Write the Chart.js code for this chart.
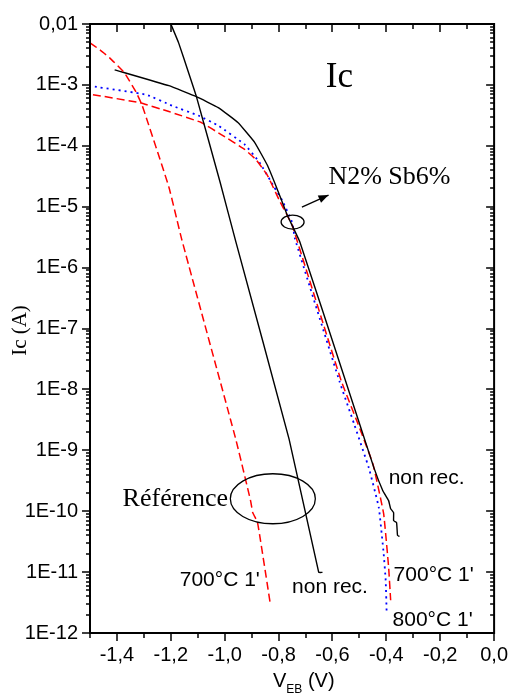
<!DOCTYPE html>
<html><head><meta charset="utf-8">
<script src="https://cdn.jsdelivr.net/npm/chart.js@4/dist/chart.umd.min.js"></script>
<style>html,body{margin:0;padding:0;background:#fff;}</style>
</head><body>
<canvas id="c" width="518" height="698" style="display:block;width:518px;height:698px"></canvas>
<script>
// ---- tick labels ----
const xTickValues = [-1.4, -1.2, -1.0, -0.8, -0.6, -0.4, -0.2, 0.0];
const xTickLabels = ['-1,4', '-1,2', '-1,0', '-0,8', '-0,6', '-0,4', '-0,2', '0,0'];
const yTickValues = [1e-12, 1e-11, 1e-10, 1e-9, 1e-8, 1e-7, 1e-6, 1e-5, 1e-4, 1e-3, 1e-2];
const yTickLabels = ['1E-12', '1E-11', '1E-10', '1E-9', '1E-8', '1E-7', '1E-6', '1E-5', '1E-4', '1E-3', '0,01'];

// ---- Référence, non recuit (black solid) ----
const refNonRecV = [-1.200, -1.171, -1.134, -1.105, -1.017, -0.9585, -0.761, -0.651, -0.637];
const refNonRecI = [1.0e-2, 4.9e-3, 1.58e-3, 6.41e-4, 2.52e-5, 2.64e-6, 1.53e-9, 9.9e-12, 9.9e-12];

// ---- Référence, 700°C 1' (red dashed) ----
const ref700V = [-1.500, -1.463, -1.427, -1.372, -1.328, -1.306, -1.207, -1.160, -0.959, -0.904, -0.896, -0.878, -0.830];
const ref700I = [4.9e-3, 3.76e-3, 2.78e-3, 1.58e-3, 7.46e-4, 4.57e-4, 2.09e-5, 2.96e-6, 1.53e-9, 1.49e-10, 9.5e-11, 6.5e-11, 2.87e-12];

// ---- N2% Sb6%, non recuit (black solid) ----
const n2NonRecV = [-1.4085, -1.207, -1.105, -1.024, -0.951, -0.889, -0.8415, -0.805, -0.768, -0.721, -0.551, -0.446, -0.413, -0.3915, -0.384, -0.373, -0.373, -0.362, -0.3585, -0.351];
const n2NonRecI = [1.77e-3, 9.7e-4, 6.41e-4, 4.24e-4, 2.41e-4, 1.14e-4, 4.79e-5, 1.94e-5, 7.3e-6, 2.64e-6, 1.36e-8, 5.15e-10, 2.17e-10, 1.49e-10, 1.10e-10, 9.5e-11, 7.0e-11, 6.5e-11, 4.0e-11, 3.85e-11];

// ---- N2% Sb6%, 700°C 1' (red dashed) ----
const n2700V = [-1.489, -1.317, -1.207, -1.087, -1.013, -0.926, -0.885, -0.8415, -0.794, -0.750, -0.567, -0.505, -0.450, -0.410, -0.3915, -0.384];
const n2700I = [6.92e-4, 5.12e-4, 3.65e-4, 2.41e-4, 1.53e-4, 8.73e-5, 6.0e-5, 3.28e-5, 1.19e-5, 5.0e-6, 1.36e-8, 2.70e-9, 6.0e-10, 9.1e-11, 1.2e-11, 3.46e-12];

// ---- N2% Sb6%, 800°C 1' (blue dotted) ----
const n2800V = [-1.482, -1.2915, -1.196, -1.098, -1.024, -0.926, -0.871, -0.816, -0.787, -0.750, -0.739, -0.574, -0.5195, -0.465, -0.428, -0.410, -0.4024, -0.3988];
const n2800I = [9.35e-4, 6.92e-4, 4.57e-4, 3.14e-4, 2.15e-4, 1.05e-4, 5.36e-5, 2.09e-5, 1.28e-5, 5.6e-6, 2.96e-6, 1.36e-8, 2.70e-9, 5.15e-10, 1.15e-10, 2.03e-11, 7.3e-12, 2.12e-12];

const pts = (xs, ys) => xs.map((v, i) => ({ x: v, y: ys[i] }));

const SANS = '"Liberation Sans", Arial, sans-serif';
const SERIF = '"Liberation Serif", "Times New Roman", serif';

const decor = {
  id: 'decor',
  afterDraw(chart) {
    const { ctx, chartArea: a, scales: { x, y } } = chart;
    const P = (v, i) => [x.getPixelForValue(v), y.getPixelForValue(i)];
    const line = (x1, y1, x2, y2) => { ctx.beginPath(); ctx.moveTo(x1, y1); ctx.lineTo(x2, y2); ctx.stroke(); };
    ctx.save();
    ctx.strokeStyle = '#000';
    ctx.fillStyle = '#000';
    // frame
    ctx.lineWidth = 2;
    ctx.strokeRect(a.left, a.top, a.right - a.left, a.bottom - a.top);
    // x ticks
    ctx.lineWidth = 1.5;
    for (let k = 0; k <= 15; k++) {
      const v = -1.5 + k * 0.1;
      const px = Math.round(x.getPixelForValue(v));
      const len = (k % 2 === 1) ? 8 : 5;
      line(px, a.bottom, px, a.bottom + len);
      line(px, a.top, px, a.top + len);
    }
    // y ticks (log)
    for (let e = -12; e <= -2; e++) {
      for (let m = 1; m <= 9; m++) {
        if (e === -2 && m > 1) break;
        const py = Math.round(y.getPixelForValue(m * Math.pow(10, e)));
        const len = m === 1 ? 8 : 4;
        line(a.left - len, py, a.left, py);
        line(a.right - len, py, a.right, py);
      }
    }
    // annotations
    ctx.lineWidth = 1.3;
    ctx.textBaseline = 'middle';
    ctx.textAlign = 'left';
    ctx.font = '35px ' + SERIF;
    let p = P(-0.574, 1.31e-3); ctx.textAlign = 'center'; ctx.fillText('Ic', p[0], p[1]);
    ctx.textAlign = 'left';
    ctx.font = '26px ' + SERIF;
    p = P(-0.615, 3.05e-5); ctx.fillText('N2% Sb6%', p[0], p[1]);
    p = P(-1.379, 1.6e-10); ctx.fillText('Référence', p[0], p[1]);
    ctx.font = '21px ' + SANS;
    p = P(-0.3915, 3.54e-10); ctx.fillText('non rec.', p[0], p[1]);
    p = P(-0.750, 5.65e-12); ctx.fillText('non rec.', p[0], p[1]);
    p = P(-1.167, 7.35e-12); ctx.fillText("700°C 1'", p[0], p[1]);
    p = P(-0.373, 8.87e-12); ctx.fillText("700°C 1'", p[0], p[1]);
    p = P(-0.377, 1.63e-12); ctx.fillText("800°C 1'", p[0], p[1]);
    // ellipses
    p = P(-0.8213, 1.6e-10);
    ctx.beginPath(); ctx.ellipse(p[0], p[1], 42.5, 25, 0, 0, Math.PI * 2); ctx.stroke();
    p = P(-0.748, 5.6e-6);
    ctx.beginPath(); ctx.ellipse(p[0], p[1], 11.5, 7, 0, 0, Math.PI * 2); ctx.stroke();
    // arrow
    const s = P(-0.7134, 9.84e-6), t = P(-0.6146, 1.55e-5);
    line(s[0], s[1], t[0], t[1]);
    const ang = Math.atan2(t[1] - s[1], t[0] - s[0]);
    ctx.beginPath();
    ctx.moveTo(t[0], t[1]);
    ctx.lineTo(t[0] - 10 * Math.cos(ang) + 4 * Math.sin(ang), t[1] - 10 * Math.sin(ang) - 4 * Math.cos(ang));
    ctx.lineTo(t[0] - 10 * Math.cos(ang) - 4 * Math.sin(ang), t[1] - 10 * Math.sin(ang) + 4 * Math.cos(ang));
    ctx.closePath(); ctx.fill();
    // axis titles
    ctx.save();
    ctx.translate(20, (a.top + a.bottom) / 2 + 2);
    ctx.rotate(-Math.PI / 2);
    ctx.textAlign = 'center';
    ctx.font = '21px ' + SERIF;
    ctx.fillText('Ic (A)', 0, 0);
    ctx.restore();
    ctx.textBaseline = 'alphabetic';
    ctx.textAlign = 'left';
    let xx = 273, base = 687;
    ctx.font = '20px ' + SANS;
    ctx.fillText('V', xx, base); xx += ctx.measureText('V').width;
    ctx.font = '12px ' + SANS;
    ctx.fillText('EB', xx, base + 6); xx += ctx.measureText('EB').width;
    ctx.font = '20px ' + SANS;
    ctx.fillText(' (V)', xx, base);
    ctx.restore();
  }
};

new Chart(document.getElementById('c'), {
  type: 'line',
  data: {
    datasets: [
      { data: pts(refNonRecV, refNonRecI), borderColor: '#000', borderWidth: 1.4 },
      { data: pts(ref700V, ref700I), borderColor: '#ff0000', borderWidth: 1.5, borderDash: [8, 4] },
      { data: pts(n2NonRecV, n2NonRecI), borderColor: '#000', borderWidth: 1.4 },
      { data: pts(n2700V, n2700I), borderColor: '#ff0000', borderWidth: 1.5, borderDash: [8, 4] },
      { data: pts(n2800V, n2800I), borderColor: '#0000ff', borderWidth: 1.8, borderDash: [2, 4] }
    ]
  },
  options: {
    responsive: false,
    devicePixelRatio: 1,
    animation: false,
    events: [],
    layout: { padding: { left: 0, right: 18, top: 21, bottom: 0 } },
    elements: { point: { radius: 0 }, line: { tension: 0.1, fill: false } },
    plugins: { legend: { display: false }, tooltip: { enabled: false } },
    scales: {
      x: {
        type: 'linear', min: -1.5, max: 0,
        afterFit(s) { s.height = 65; },
        afterBuildTicks(s) { s.ticks = xTickValues.map(v => ({ value: v })); },
        grid: { display: true, drawOnChartArea: false, drawTicks: false, color: 'rgba(0,0,0,0)' },
        border: { display: false },
        ticks: {
          padding: 10, color: '#000', maxRotation: 0, autoSkip: false,
          font: { family: SANS, size: 20 },
          callback: (v, i) => xTickLabels[i]
        }
      },
      y: {
        type: 'logarithmic', min: 1e-12, max: 1e-2,
        afterFit(s) { s.width = 90; },
        afterBuildTicks(s) { s.ticks = yTickValues.map(v => ({ value: v })); },
        grid: { display: true, drawOnChartArea: false, drawTicks: false, color: 'rgba(0,0,0,0)' },
        border: { display: false },
        ticks: {
          padding: 12, color: '#000', autoSkip: false,
          font: { family: SANS, size: 20 },
          callback: (v, i) => yTickLabels[i]
        }
      }
    }
  },
  plugins: [decor]
});
</script>
</body></html>
